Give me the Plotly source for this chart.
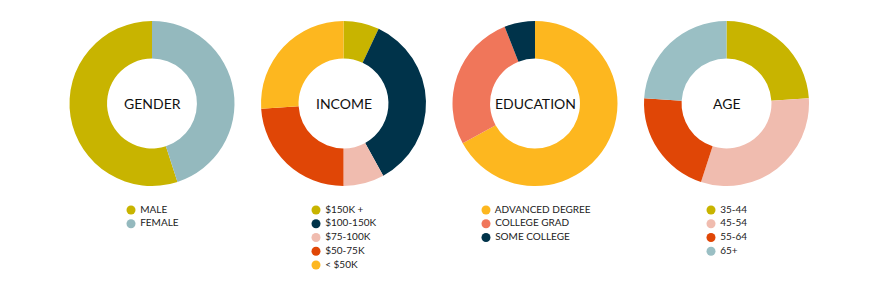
import plotly.graph_objects as go

# ---- data ----
gender_labels = ["MALE", "FEMALE"]
gender_values = [55, 45]
gender_colors = ["#C8B400", "#94B9BE"]

income_labels = ["$150K +", "$100-150K", "$75-100K", "$50-75K", "< $50K"]
income_values = [7, 35, 8, 24, 26]
income_colors = ["#C8B400", "#00334A", "#F0BCAF", "#E04606", "#FDB71F"]

education_labels = ["ADVANCED DEGREE", "COLLEGE GRAD", "SOME COLLEGE"]
education_values = [67, 27, 6]
education_colors = ["#FDB71F", "#F0765A", "#00334A"]

age_labels = ["35-44", "45-54", "55-64", "65+"]
age_values = [24, 31, 21, 24]
age_colors = ["#C8B400", "#F0BCAF", "#E04606", "#9ABFC4"]

titles = ["GENDER", "INCOME", "EDUCATION", "AGE"]

# gender pie starts where the male slice ends at 12 o'clock (male on the left)
gender_rotation = 360 - 360 * gender_values[0] / sum(gender_values)

groups = [
    (gender_labels, gender_values, gender_colors, gender_rotation),
    (income_labels, income_values, income_colors, 0),
    (education_labels, education_values, education_colors, 0),
    (age_labels, age_values, age_colors, 0),
]

# ---- layout constants (pixels) ----
W, H = 880, 293
centers_x = [152, 343.5, 535, 726.5]
center_y = 103.5
radius = 82.5
legend_x = [131, 316, 486, 711]
legend_y0 = 210
legend_dy = 13.75

FONT = "Lato, 'Open Sans', sans-serif"

fig = go.Figure()

for i, (labels, values, colors, rot) in enumerate(groups):
    cx = centers_x[i]
    fig.add_trace(go.Pie(
        labels=labels, values=values,
        marker=dict(colors=colors, line=dict(width=0)),
        hole=0.545, sort=False, direction="clockwise", rotation=rot,
        textinfo="none", hoverinfo="label+percent", showlegend=False,
        domain=dict(x=[(cx - radius) / W, (cx + radius) / W],
                    y=[1 - (center_y + radius) / H, 1 - (center_y - radius) / H]),
    ))
    fig.add_annotation(
        x=cx / W, y=1 - center_y / H, xref="paper", yref="paper",
        xanchor="center", yanchor="middle",
        text=titles[i], showarrow=False,
        font=dict(family=FONT, size=14, color="#111111"),
    )
    # legend as scatter markers + text on a pixel-scaled overlay axis
    fig.add_trace(go.Scatter(
        x=[legend_x[i]] * len(labels),
        y=[legend_y0 + legend_dy * k for k in range(len(labels))],
        mode="markers+text",
        marker=dict(color=colors, size=9, symbol="circle"),
        text=[" " + t for t in labels], textposition="middle right",
        textfont=dict(family=FONT, size=10, color="#222222"),
        hoverinfo="skip", showlegend=False,
        xaxis="x", yaxis="y", cliponaxis=False,
    ))

fig.update_layout(
    width=W, height=H,
    margin=dict(l=0, r=0, t=0, b=0),
    paper_bgcolor="white", plot_bgcolor="rgba(0,0,0,0)",
    xaxis=dict(range=[0, W], visible=False, fixedrange=True, domain=[0, 1]),
    yaxis=dict(range=[H, 0], visible=False, fixedrange=True, domain=[0, 1]),
    showlegend=False,
)

fig.write_html("out.html")
